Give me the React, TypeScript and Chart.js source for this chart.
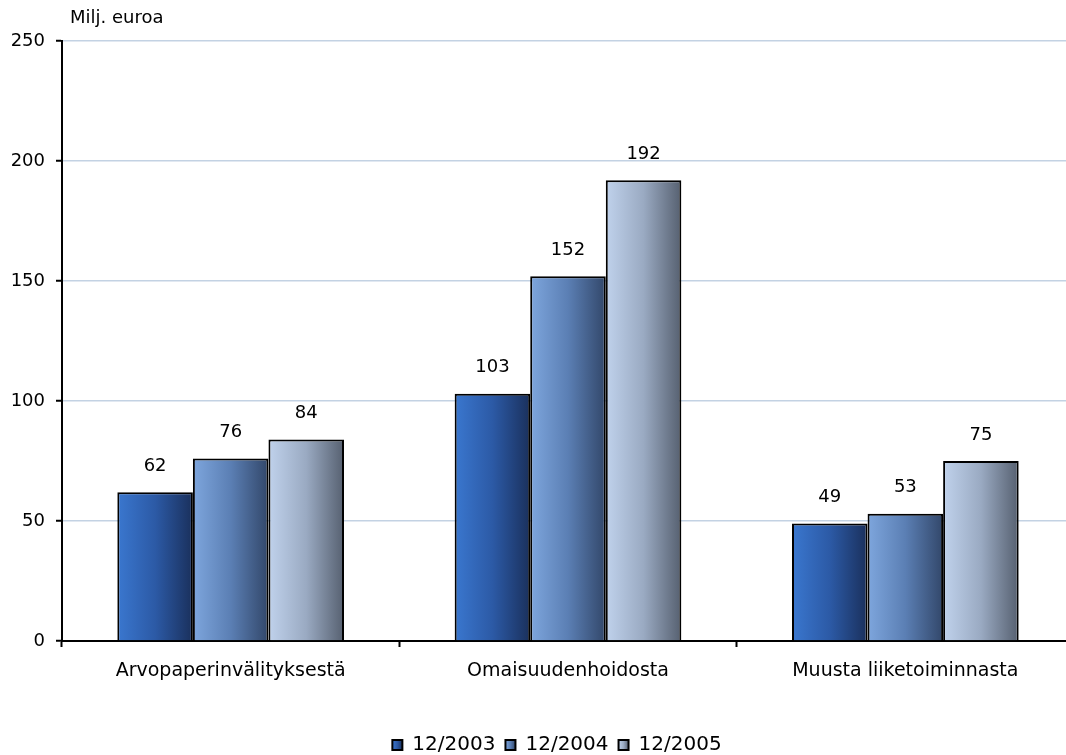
import React, { useEffect, useRef } from "react";
import { Chart, registerables } from "chart.js";

Chart.register(...registerables);

// Data
const categories = ["Arvopaperinvälityksestä", "Omaisuudenhoidosta", "Muusta liiketoiminnasta"];
const seriesNames = ["12/2003", "12/2004", "12/2005"];
const values2003 = [62, 103, 49];
const values2004 = [76, 152, 53];
const values2005 = [84, 192, 75];
const yTicks = [0, 50, 100, 150, 200, 250];
const unitLabel = "Milj. euroa";

// Horizontal shading for each series: light left edge to dark right edge
const shades: string[][] = [
  ["#3a77cf", "#2c5aa6", "#1a305c"],
  ["#7ea6dd", "#5b7fb4", "#32476a"],
  ["#c0d2ec", "#9aaac2", "#566070"],
];

const CAT_PCT = 0.672;
const FONT = "'DejaVu Sans', Verdana, sans-serif";

function makeGradient(ctx: CanvasRenderingContext2D, left: number, right: number, s: string[]) {
  if (!Number.isFinite(left) || !Number.isFinite(right) || right <= left) return s[1];
  const g = ctx.createLinearGradient(left, 0, right, 0);
  g.addColorStop(0, s[0]);
  g.addColorStop(0.5, s[1]);
  g.addColorStop(1, s[2]);
  return g;
}

function barFill(c: any) {
  const chart = c.chart;
  const di = c.datasetIndex ?? 0;
  const s = shades[di];
  const xs = chart.scales?.x;
  if (c.dataIndex === undefined || !xs || !chart.ctx) return s[1];
  const n = categories.length;
  const catW = (xs.right - xs.left) / n;
  const groupW = catW * CAT_PCT;
  const barW = groupW / seriesNames.length;
  const center = xs.getPixelForValue(c.dataIndex);
  const left = center - groupW / 2 + di * barW;
  return makeGradient(chart.ctx, left, left + barW, s);
}

// Unit caption above the value axis
const unitPlugin = {
  id: "unitCaption",
  afterDraw(chart: any) {
    const { ctx, chartArea } = chart;
    ctx.save();
    ctx.font = `18px ${FONT}`;
    ctx.fillStyle = "#000";
    ctx.textAlign = "left";
    ctx.textBaseline = "middle";
    ctx.fillText(unitLabel, chartArea.left + 8, 18);
    ctx.restore();
  },
};

// Value labels above each bar
const valueLabelPlugin = {
  id: "valueLabels",
  afterDatasetsDraw(chart: any) {
    const { ctx } = chart;
    ctx.save();
    ctx.font = `18px ${FONT}`;
    ctx.fillStyle = "#000";
    ctx.textAlign = "center";
    ctx.textBaseline = "middle";
    chart.data.datasets.forEach((ds: any, i: number) => {
      const meta = chart.getDatasetMeta(i);
      meta.data.forEach((el: any, j: number) => {
        ctx.fillText(String(ds.data[j]), el.x, el.y - 26);
      });
    });
    ctx.restore();
  },
};

// Legend placement and shaded legend swatches
const legendPlacePlugin = {
  id: "legendPlace",
  afterLayout(chart: any) {
    const lg = chart.legend;
    if (!lg) return;
    const dx = 20;
    const dy = 10;
    lg.left += dx;
    lg.right += dx;
    lg.top += dy;
    lg.bottom += dy;
    (lg.legendHitBoxes || []).forEach((h: any) => {
      h.left += dx;
      h.top += dy;
    });
  },
  beforeDraw(chart: any) {
    const lg = chart.legend;
    if (!lg || !lg.legendItems) return;
    lg.legendItems.forEach((item: any, i: number) => {
      const h = lg.legendHitBoxes?.[i];
      if (!h) return;
      item.fillStyle = makeGradient(chart.ctx, h.left, h.left + 10, shades[item.datasetIndex ?? i]);
    });
  },
};

export default function App() {
  const ref = useRef<HTMLCanvasElement>(null);

  useEffect(() => {
    if (!ref.current) return;
    const datasetsValues = [values2003, values2004, values2005];
    const chart = new Chart(ref.current, {
      type: "bar",
      data: {
        labels: categories,
        datasets: seriesNames.map((name, i) => ({
          label: name,
          data: datasetsValues[i],
          backgroundColor: barFill,
          borderColor: "#000",
          borderWidth: 2,
          borderSkipped: "bottom",
          barPercentage: 1,
          categoryPercentage: CAT_PCT,
        })),
      },
      options: {
        responsive: false,
        animation: false,
        maintainAspectRatio: false,
        layout: { padding: { top: 41, left: 0, right: 0, bottom: 0 } },
        plugins: {
          legend: {
            position: "bottom",
            labels: {
              boxWidth: 10,
              boxHeight: 10,
              padding: 10,
              color: "#000",
              font: { family: FONT, size: 20 },
            },
          },
          tooltip: { enabled: false },
        },
        scales: {
          x: {
            grid: {
              display: true,
              drawOnChartArea: false,
              tickLength: 6,
              tickColor: "#000",
              tickWidth: 2,
              offset: true,
            },
            border: { display: true, color: "#000", width: 2 },
            ticks: {
              color: "#000",
              padding: 13,
              maxRotation: 0,
              font: { family: FONT, size: 19 },
            },
            afterFit: (s: any) => {
              s.height = 74;
            },
          },
          y: {
            min: 0,
            max: 250,
            afterBuildTicks: (s: any) => {
              s.ticks = yTicks.map((v) => ({ value: v }));
            },
            grid: {
              color: (c: any) => (c.tick && c.tick.value === 0 ? "rgba(0,0,0,0)" : "#c3d2e3"),
              lineWidth: 1.5,
              tickLength: 6,
              tickColor: "#000",
              tickWidth: 2,
            },
            border: { display: true, color: "#000", width: 2 },
            ticks: {
              color: "#000",
              padding: 11,
              font: { family: FONT, size: 18 },
            },
            afterFit: (s: any) => {
              s.width = 62;
            },
          },
        },
      },
      plugins: [unitPlugin, valueLabelPlugin, legendPlacePlugin],
    });
    return () => chart.destroy();
  }, []);

  return (
    <div
      style={{
        position: "fixed",
        left: 0,
        top: 0,
        width: 1066,
        height: 755,
        overflow: "hidden",
        background: "#fff",
      }}
    >
      <canvas ref={ref} width={1074} height={755} style={{ display: "block" }} />
    </div>
  );
}
